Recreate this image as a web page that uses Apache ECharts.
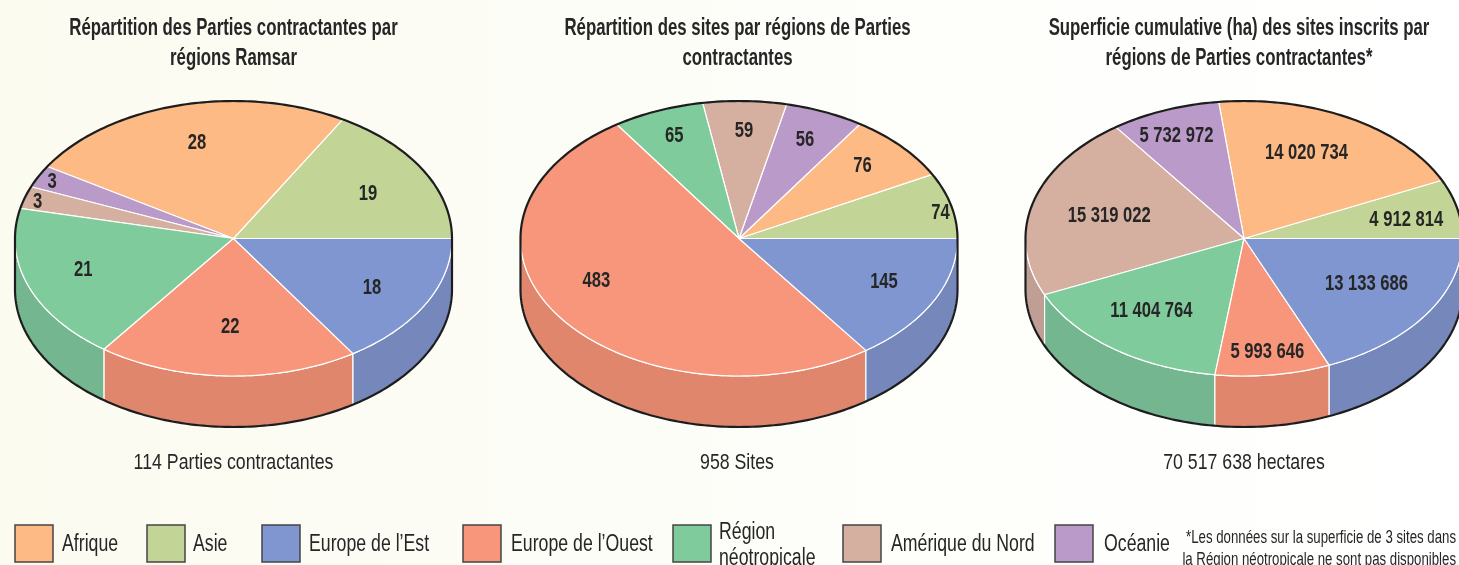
<!DOCTYPE html>
<html><head><meta charset="utf-8">
<style>html,body{margin:0;padding:0;background:#fff}#c{width:1459px;height:565px}</style>
<script src="https://cdn.jsdelivr.net/npm/echarts@6/dist/echarts.min.js"></script>
</head><body><div id="c"></div>
<script>
const categories = ['Asie','Afrique','Océanie','Amérique du Nord','Région néotropicale',"Europe de l'Ouest","Europe de l'Est"];
const partiesValues = [19,28,3,3,21,22,18];
const sitesValues = [74,76,56,59,65,483,145];
const areaValues = [4912814,14020734,5732972,15319022,11404764,5993646,13133686];
const legendOrder = ['Afrique','Asie',"Europe de l'Est","Europe de l'Ouest",'Région néotropicale','Amérique du Nord','Océanie'];
const legendLabels = ['Afrique','Asie','Europe de l’Est','Europe de l’Ouest','Région\nnéotropicale','Amérique du Nord','Océanie'];
const titles = ['Répartition des Parties contractantes par\nrégions Ramsar','Répartition des sites par régions de Parties\ncontractantes','Superficie cumulative (ha) des sites inscrits par\nrégions de Parties contractantes*'];
const totals = ['114 Parties contractantes','958 Sites','70 517 638 hectares'];
const footnote = ['*Les données sur la superficie de 3 sites dans','la Région néotropicale ne sont pas disponibles'];

const topColors = {'Afrique':'#FDBA85','Asie':'#C2D597',"Europe de l'Est":'#8096D0',"Europe de l'Ouest":'#F7967A','Région néotropicale':'#80CB9C','Amérique du Nord':'#D5B0A1','Océanie':'#B99AC8'};
const wallColors = {'Afrique':'#DDA272','Asie':'#A9BA83',"Europe de l'Est":'#7688BB',"Europe de l'Ouest":'#DF866C','Région néotropicale':'#74B690','Amérique du Nord':'#BF9F93','Océanie':'#A588B2'};

const RX = 218.5, RY = 137.5, DEPTH = 51, CY = 238.5;
const FONT = '"Liberation Sans Narrow","Liberation Sans",sans-serif';
const INK = '#262626';
const pies = [
 {cx:233.5, values:partiesValues, shifts:[[2,4],[1,-2],[-45,-13],[-50,-8],[-7,-2],[1,-8],[4,4]]},
 {cx:739, values:sitesValues, shifts:[[53,-2],[10,-8],[6,-10],[1,-11],[-8,-13],[-17,-12],[9,-1]]},
 {cx:1244, values:areaValues, shifts:[[13,2],[-12,-1],[-12,-13],[13,2],[-1,-5],[3,18],[-5,-8]]}
];
const NUM_SX = 0.755, TITLE_SX = 0.73, BODY_SX = 0.806, LEGEND_SX = 0.77, NOTE_SX = 0.735;

function pt(cx,a,dy){return [cx+RX*Math.cos(a), CY-RY*Math.sin(a)+(dy||0)];}
function arc(cx,a0,a1,dy){const n=Math.max(2,Math.ceil(Math.abs(a1-a0)/0.02));const o=[];for(let i=0;i<=n;i++)o.push(pt(cx,a0+(a1-a0)*i/n,dy));return o;}
function fmt(v){return String(v).replace(/\B(?=(\d{3})+$)/g,' ');}

function pieSeries(p){
  const total=p.values.reduce((s,v)=>s+v,0);
  let acc=0;
  const spans=p.values.map(v=>{const a0=acc/total*2*Math.PI;acc+=v;return [a0,acc/total*2*Math.PI];});
  return {
    type:'custom',coordinateSystem:'none',silent:true,animation:false,clip:false,z:2,
    data:p.values.map((v,i)=>({name:categories[i],value:v})),
    renderItem(params,api){
      const i=params.dataIndex,[a0,a1]=spans[i],name=categories[i],children=[];
      const w0=Math.max(a0,Math.PI),w1=Math.min(a1,2*Math.PI);
      if(w1>w0){
        const top=arc(p.cx,w0,w1,0),bot=arc(p.cx,w1,w0,DEPTH);
        children.push({type:'polygon',shape:{points:top.concat(bot)},style:{fill:wallColors[name],stroke:'#fff',lineWidth:1.2}});
      }
      children.push({type:'polygon',shape:{points:[[p.cx,CY]].concat(arc(p.cx,a0,a1,0))},style:{fill:topColors[name],stroke:'#fff',lineWidth:1.2,lineJoin:'round'}});
      return {type:'group',children};
    }
  };
}
function outlineSeries(p){
  return {
    type:'custom',coordinateSystem:'none',silent:true,animation:false,z:3,data:[p.values.length],
    renderItem(){
      const pts=arc(p.cx,0,Math.PI,0).concat(arc(p.cx,Math.PI,2*Math.PI,DEPTH));
      pts.push(pt(p.cx,0,0));
      return {type:'polyline',shape:{points:pts},style:{fill:null,stroke:'#1d1d1d',lineWidth:2.2}};
    }
  };
}
function labelSeries(p){
  const total=p.values.reduce((s,v)=>s+v,0);
  let acc=0;
  const mids=p.values.map(v=>{const m=(acc+v/2)/total*2*Math.PI;acc+=v;return m;});
  return {
    type:'custom',coordinateSystem:'none',silent:true,animation:false,z:4,
    data:p.values.map((v,i)=>({name:categories[i],value:v})),
    renderItem(params,api){
      const i=params.dataIndex,m=mids[i];
      const x=p.cx+0.7*RX*Math.cos(m)+p.shifts[i][0], y=CY-0.7*RY*Math.sin(m)+p.shifts[i][1];
      return {type:'text',x,y,scaleX:NUM_SX,style:{text:fmt(api.value(0)),x:0,y:0,align:'center',verticalAlign:'middle',font:'bold 22px '+FONT,fill:INK}};
    }
  };
}
function txt(text,x,y,size,weight,align,sx){
  return {type:'text',x,y,scaleX:sx,z:10,silent:true,style:{text,x:0,y:0,align,verticalAlign:'middle',font:(weight?weight+' ':'')+size+'px '+FONT,fill:INK}};
}
const graphic=[];
const titleX=[233.5,737.5,1239];
titles.forEach((t,i)=>{t.split('\n').forEach((l,j)=>graphic.push(txt(l,titleX[i],29+30*j,23,'bold','center',TITLE_SX)));});
const totalX=[233.5,737,1244];
totals.forEach((t,i)=>graphic.push(txt(t,totalX[i],463,22,'','center',BODY_SX)));
const swatchX=[15,147,262,463,673,843,1055];
const labelX=[62,193,309,511,719,891,1104];
legendOrder.forEach((n,i)=>{
  graphic.push({type:'rect',silent:true,shape:{x:swatchX[i],y:525,width:38,height:37},style:{fill:topColors[n],stroke:'#444',lineWidth:1.5}});
  const ls=legendLabels[i].split('\n');
  if(ls.length===1)graphic.push(txt(ls[0],labelX[i],545,23,'','left',LEGEND_SX));
  else ls.forEach((l,j)=>graphic.push(txt(l,labelX[i],533+j*26,23,'','left',LEGEND_SX)));
});
footnote.forEach((l,j)=>graphic.push(txt(l,1456,538+j*22,18,'','right',NOTE_SX)));

const chart=echarts.init(document.getElementById('c'),null,{renderer:'canvas'});
chart.setOption({
  animation:false,
  backgroundColor:{type:'linear',x:0,y:0,x2:1,y2:0,colorStops:[{offset:0,color:'#FBFBF0'},{offset:0.45,color:'#FDFDF8'},{offset:1,color:'#FFFFFF'}]},
  graphic,
  series:pies.flatMap(p=>[pieSeries(p),outlineSeries(p),labelSeries(p)])
});
</script></body></html>
